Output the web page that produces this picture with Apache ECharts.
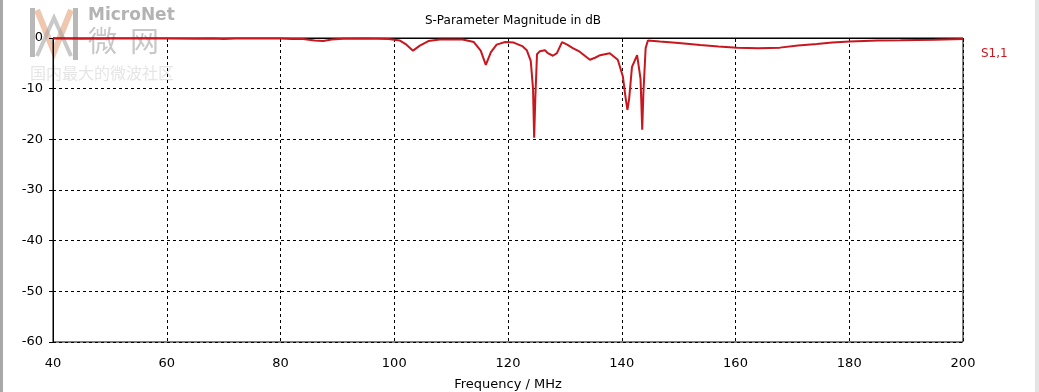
<!DOCTYPE html>
<html>
<head>
<meta charset="utf-8">
<script src="https://cdn.jsdelivr.net/npm/echarts@6/dist/echarts.min.js"></script>
<style>
html,body{margin:0;padding:0;background:#fff;}
#chart{width:1039px;height:392px;}
</style>
</head>
<body>
<div id="chart"></div>
<script>
// Frequency (MHz)
const freq = [40,45,50,55,60,65,68,70,72,75,80,82,84,86,87.5,89,91,95,99,101,102,103.3,104.5,106,108,112,114,115.2,116.1,117,118,119.5,121,122.5,123.3,124,124.4,124.6,124.8,125.1,125.6,126.5,127.0,127.9,128.6,129.5,130.4,131.4,132.6,134.4,135.3,136.2,137.9,139.3,140.2,140.7,141.0,141.3,141.8,142.7,143.0,143.3,143.6,143.8,144.2,144.6,146.7,150,153.8,157,160.3,164,167.8,171,174.3,177,180.1,185,189,195,200];
// S1,1 magnitude (dB)
const s11 = [-0.1,-0.15,-0.1,-0.1,-0.1,-0.15,-0.1,-0.2,-0.1,-0.1,-0.1,-0.2,-0.2,-0.5,-0.6,-0.3,-0.15,-0.1,-0.2,-0.5,-1.2,-2.5,-1.5,-0.6,-0.3,-0.3,-0.8,-2.5,-5.3,-2.8,-1.3,-0.8,-0.9,-1.6,-2.4,-4.5,-10,-19.7,-12,-3.2,-2.6,-2.4,-3.0,-3.5,-3.0,-0.8,-1.3,-2.0,-2.7,-4.3,-3.9,-3.4,-3.0,-4.3,-7.6,-12,-14.2,-12,-5.7,-3.4,-3.3,-8,-18.1,-11,-2,-0.5,-0.7,-1.0,-1.4,-1.7,-1.9,-2.0,-1.9,-1.5,-1.2,-0.9,-0.7,-0.5,-0.45,-0.35,-0.2];
const seriesName = 'S1,1';
const titleText = 'S-Parameter Magnitude in dB';
const xName = 'Frequency / MHz';

const FONT = 'DejaVu Sans';
const chart = echarts.init(document.getElementById('chart'), null, {renderer:'canvas'});
const data = freq.map((f,i)=>[f, s11[i]]);

chart.setOption({
  backgroundColor:'#ffffff',
  animation:false,
  title:{text:titleText,left:508,top:10,textAlign:'center',
    textStyle:{fontFamily:FONT,fontSize:12,fontWeight:'normal',color:'#000'}},
  legend:{data:[seriesName],left:976,top:43,orient:'vertical',icon:'rect',itemWidth:0,itemHeight:0,itemGap:0,
    textStyle:{fontFamily:FONT,fontSize:12,color:'#c8171e',padding:[0,0,0,-5]}},
  grid:{left:53,right:76,top:38,bottom:50,outerBoundsMode:'none',containLabel:false,show:true,borderColor:'#000',borderWidth:1,backgroundColor:'transparent'},
  xAxis:{type:'value',min:40,max:200,interval:20,name:xName,nameLocation:'middle',nameGap:36,
    nameTextStyle:{fontFamily:FONT,fontSize:13,color:'#000'},
    axisLine:{lineStyle:{color:'#000',width:1}},
    axisTick:{show:true,length:4,lineStyle:{color:'#000'}},
    axisLabel:{fontFamily:FONT,fontSize:13,color:'#000',margin:15},
    splitLine:{show:true,lineStyle:{color:'#000',type:[3,3],width:1}}},
  yAxis:{type:'value',min:-60,max:0,interval:10,
    axisLine:{show:true,lineStyle:{color:'#000',width:1}},
    axisTick:{show:true,length:4,lineStyle:{color:'#000'}},
    axisLabel:{fontFamily:FONT,fontSize:13,color:'#000',margin:10},
    splitLine:{show:true,lineStyle:{color:'#000',type:[3,3],width:1}}},
  graphic:[
    {type:'rect',left:0,top:0,shape:{width:3,height:392},style:{fill:'#a8a8a8'},z:100},
    {type:'rect',left:1035,top:0,shape:{width:4,height:392},style:{fill:'#e4e4e4'},z:100},
    {type:'rect',left:30,top:8,shape:{width:5,height:49},style:{fill:'#9a9a9a',opacity:0.7},z:-1},
    {type:'rect',left:73,top:8,shape:{width:5,height:52},style:{fill:'#9a9a9a',opacity:0.7},z:-1},
    {type:'polyline',shape:{points:[[37,10],[54,52],[71,10]]},style:{stroke:'#e9b494',lineWidth:6,fill:null,opacity:0.75},z:-1},
    {type:'polyline',shape:{points:[[37,56],[54,18],[71,56]]},style:{stroke:'#a5a5a5',lineWidth:4,fill:null,opacity:0.6},z:-1},
    {type:'text',left:88,top:7,style:{text:'MicroNet',font:'bold 17px '+FONT,fill:'#a0a0a0',opacity:0.8},z:-1},
    {type:'text',left:88,top:26,style:{text:'微  网',font:'29px "Noto Sans CJK SC"',fill:'#b0b0b0',opacity:0.7},z:-1},
    {type:'text',left:30,top:65,style:{text:'国内最大的微波社区',font:'16px "Noto Sans CJK SC"',fill:'#e2e2e2',opacity:0.9},z:-1}
  ],
  series:[{name:seriesName,type:'line',data:data,showSymbol:false,symbol:'none',
    lineStyle:{color:'#c8171e',width:2},itemStyle:{color:'#c8171e'},z:5}]
});
</script>
</body>
</html>
